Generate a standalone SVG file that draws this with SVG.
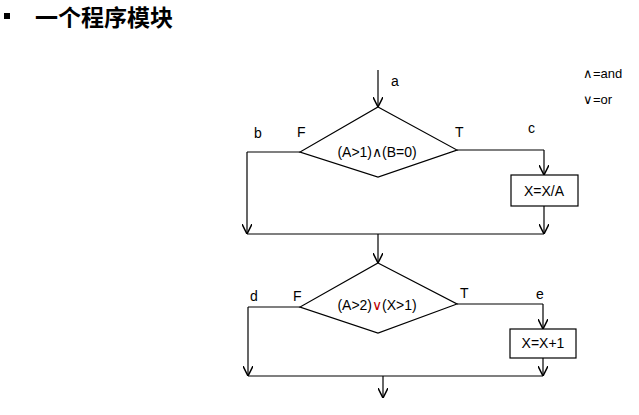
<svg xmlns="http://www.w3.org/2000/svg" width="639" height="415" viewBox="0 0 639 415">
<defs>
<marker id="ah" viewBox="0 0 10 10" refX="10" refY="5" markerWidth="10" markerHeight="10" markerUnits="userSpaceOnUse" orient="auto"><path d="M0,0 L10,5 L0,10" fill="none" stroke="#000" stroke-width="1.5"/></marker>
<style>
.l{fill:none;stroke:#000;stroke-width:1.2}
.a{fill:none;stroke:#000;stroke-width:1.2;marker-end:url(#ah)}
.s{fill:#fff;stroke:#000;stroke-width:1.2}
text{font-family:"Liberation Sans",Arial,sans-serif;font-size:14px;fill:#000}
.m{text-anchor:middle}
</style>
</defs>
<rect width="639" height="415" fill="#fff"/>
<rect x="4" y="13" width="6" height="6" fill="#000"/>
<text x="35" y="26" style="font-family:'Noto Sans CJK SC',sans-serif;font-size:23px;font-weight:bold">一个程序模块</text>
<g id="connectors">
<path class="a" d="M378,70 V107"/>
<path class="l" d="M300,152 H247"/><path class="a" d="M247,152 V234"/>
<path class="l" d="M457,150 H544"/><path class="a" d="M544,150 V175"/>
<path class="a" d="M544,206 V234"/>
<path class="l" d="M247,234 H544"/>
<path class="a" d="M378,234 V263"/>
<path class="l" d="M300,307 H248"/><path class="a" d="M248,307 V376"/>
<path class="l" d="M457,304 H543"/><path class="a" d="M543,304 V329"/>
<path class="a" d="M543,358 V376"/>
<path class="l" d="M248,376 H543"/>
<path class="a" d="M383,376 V398"/>
</g>
<g id="d1"><polygon class="s" points="378,107 457,150 378,177 300,152"/><text class="m" x="377" y="157">(A&gt;1)∧(B=0)</text></g>
<g id="b1"><rect class="s" x="511" y="175" width="67" height="31"/><text class="m" x="544" y="196">X=X/A</text></g>
<g id="d2"><polygon class="s" points="378,263 457,304 378,333 300,307"/><text class="m" x="377" y="310">(A&gt;2)<tspan fill="#c00000">∨</tspan>(X&gt;1)</text></g>
<g id="b2"><rect class="s" x="510" y="329" width="66" height="29"/><text class="m" x="543" y="348">X=X+1</text></g>
<g id="labels">
<text x="391" y="86">a</text><text x="254" y="138">b</text><text x="297" y="137">F</text><text x="455" y="137">T</text><text x="528" y="133">c</text>
<text x="250" y="301">d</text><text x="293" y="301">F</text><text x="460" y="298">T</text><text x="536" y="299">e</text>
<text x="583" y="78" style="font-size:13px">∧=and</text><text x="583" y="104" style="font-size:13px">∨=or</text>
</g>
</svg>
